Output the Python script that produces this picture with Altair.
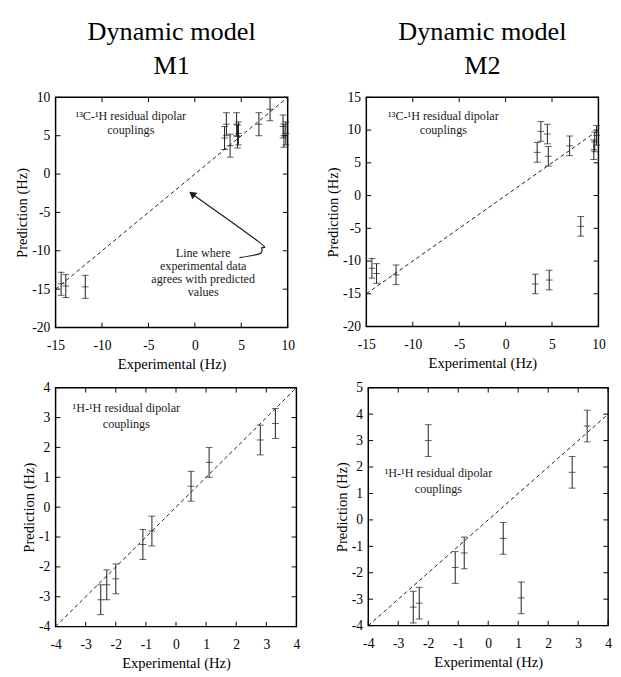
import altair as alt
import pandas as pd

FONT = "Liberation Serif"
INK = "#1a1a1a"

# ---------------- data ----------------
# 13C-1H residual dipolar couplings
ch_experimental = [-14.4, -13.9, -11.8, 3.2, 3.4, 3.8, 4.5, 4.6, 4.7, 6.9, 8.1, 9.5, 9.6, 9.8]
ch_pred_m1 = [-14.3, -14.6, -14.7, 4.7, 6.5, 3.7, 6.5, 4.9, 5.3, 6.5, 8.45, 6.2, 5.0, 5.3]
ch_pred_m2 = [-11.1, -11.9, -12.1, -13.5, 6.6, 9.8, 9.4, 6.0, -12.9, 7.6, -4.7, 7.0, 8.2, 9.2]
ch_err_m1 = 1.5
ch_err_m2 = 1.5

# 1H-1H residual dipolar couplings
hh_experimental = [-2.5, -2.3, -2.0, -1.1, -0.8, 0.5, 1.1, 2.8, 3.3]
hh_pred_m1 = [-3.1, -2.6, -2.4, -1.25, -0.8, 0.7, 1.5, 2.25, 2.8]
hh_pred_m2 = [-3.3, -3.15, 3.0, -1.8, -1.25, -0.7, -2.95, 1.8, 3.55]
hh_err_m1 = 0.5
hh_err_m2 = 0.6

# tick values
ch_x_ticks = [-15, -10, -5, 0, 5, 10]
ch_m1_y_ticks = [-20, -15, -10, -5, 0, 5, 10]
ch_m2_y_ticks = [-20, -15, -10, -5, 0, 5, 10, 15]
hh_x_ticks = [-4, -3, -2, -1, 0, 1, 2, 3, 4]
hh_m1_y_ticks = [-4, -3, -2, -1, 0, 1, 2, 3, 4]
hh_m2_y_ticks = [-4, -3, -2, -1, 0, 1, 2, 3, 4, 5]

ch_label = ["\u00b9\u00b3C-\u00b9H residual dipolar", "couplings"]
hh_label = ["\u00b9H-\u00b9H residual dipolar", "couplings"]
note_lines = ["Line where", "experimental data", "agrees with predicted", "values"]


def panel(exp, pred, err, xt, yt, w, h, label, label_pos, title=None, note=None):
    xs = alt.Scale(domain=[xt[0], xt[-1]], nice=False, zero=False)
    ys = alt.Scale(domain=[yt[0], yt[-1]], nice=False, zero=False)
    df = pd.DataFrame({"exp": exp, "pred": pred})
    df["lo"] = df["pred"] - err
    df["hi"] = df["pred"] + err

    ax = dict(ticks=False, domain=False, grid=False, labelFont=FONT, labelFontSize=14,
              labelColor="black", titleFont=FONT, titleFontSize=15, titleFontWeight="normal",
              titleColor="black", labelFlush=False, labelOverlap=False,
              labelExpr="'' + datum.value")
    xaxis = alt.Axis(values=xt, title="Experimental (Hz)", labelPadding=12, titlePadding=4, **ax)
    yaxis = alt.Axis(values=yt, title="Prediction (Hz)", labelPadding=6, titlePadding=2, **ax)

    def X(f):
        return alt.X(f"{f}:Q", scale=xs, axis=xaxis)

    def Y(f):
        return alt.Y(f"{f}:Q", scale=ys, axis=yaxis)

    base = alt.Chart(df)
    layers = [base.mark_rule(color=INK, strokeWidth=1).encode(x=X("exp"), y=Y("lo"), y2="hi:Q")]
    for f in ("lo", "hi", "pred"):
        layers.append(base.mark_tick(orient="horizontal", size=7, thickness=1, color=INK)
                      .encode(x=X("exp"), y=Y(f)))

    diag = pd.DataFrame({"a": [max(xt[0], yt[0]), min(xt[-1], yt[-1])]})
    layers.append(alt.Chart(diag).mark_line(strokeDash=[4, 3], color=INK, strokeWidth=1)
                  .encode(x=X("a"), y=Y("a")))

    # inward ticks on all four sides
    tx = pd.DataFrame({"t": xt})
    ty = pd.DataFrame({"t": yt})
    L = 5
    tk = dict(color="black", strokeWidth=1)
    layers += [
        alt.Chart(tx).mark_rule(**tk).encode(x=X("t"), y=alt.value(h), y2=alt.value(h - L)),
        alt.Chart(tx).mark_rule(**tk).encode(x=X("t"), y=alt.value(0), y2=alt.value(L)),
        alt.Chart(ty).mark_rule(**tk).encode(y=Y("t"), x=alt.value(0), x2=alt.value(L)),
        alt.Chart(ty).mark_rule(**tk).encode(y=Y("t"), x=alt.value(w), x2=alt.value(w - L)),
    ]

    lab = pd.DataFrame({"x": [label_pos[0]] * 2, "y": [label_pos[1], label_pos[2]], "t": label})
    layers.append(alt.Chart(lab).mark_text(font=FONT, fontSize=12.5, color=INK, align="center", baseline="middle")
                  .encode(x=X("x"), y=Y("y"), text="t:N"))

    if note is not None:
        nx, ny_list, path_x, path_y, tip, ang = note
        nd = pd.DataFrame({"x": [nx] * len(note_lines), "y": ny_list, "t": note_lines})
        layers.append(alt.Chart(nd).mark_text(font=FONT, fontSize=12.5, color=INK, align="center", baseline="middle")
                      .encode(x=X("x"), y=Y("y"), text="t:N"))
        pth = pd.DataFrame({"x": path_x, "y": path_y, "o": list(range(len(path_x)))})
        layers.append(alt.Chart(pth).mark_line(color=INK, strokeWidth=1.2, interpolate="cardinal")
                      .encode(x=X("x"), y=Y("y"), order="o:Q"))
        hd = pd.DataFrame({"x": [tip[0]], "y": [tip[1]]})
        layers.append(alt.Chart(hd).mark_point(shape="triangle-up", filled=True, size=70, angle=ang, color=INK, opacity=1)
                      .encode(x=X("x"), y=Y("y")))

    ch = alt.layer(*layers).properties(width=w, height=h)
    if title is not None:
        ch = ch.properties(title=alt.Title(title, font=FONT, fontSize=27, fontWeight="normal",
                                           color="black", lineHeight=35, offset=11, anchor="middle"))
    return ch


note = (0.9, [-10.3, -12.0, -13.7, -15.4],
        [4.8, 7.0, 7.2, 6.86, -0.3], [-10.9, -10.37, -9.65, -8.81, -2.59],
        (-0.3, -2.59), 306)

tl = panel(ch_experimental, ch_pred_m1, ch_err_m1, ch_x_ticks, ch_m1_y_ticks, 239, 237,
           ch_label, (-6.9, 7.6, 5.7), title=["Dynamic model", "M1"], note=note)
tr = panel(ch_experimental, ch_pred_m2, ch_err_m2, ch_x_ticks, ch_m2_y_ticks, 239, 236,
           ch_label, (-6.7, 12.2, 10.0), title=["Dynamic model", "M2"])
bl = panel(hh_experimental, hh_pred_m1, hh_err_m1, hh_x_ticks, hh_m1_y_ticks, 248, 246,
           hh_label, (-1.65, 3.32, 2.77))
br = panel(hh_experimental, hh_pred_m2, hh_err_m2, hh_x_ticks, hh_m2_y_ticks, 247, 245,
           hh_label, (-1.66, 1.76, 1.17))

row1 = alt.hconcat(tl, tr, spacing=30)
row2 = alt.hconcat(bl, br, spacing=33)
chart = (alt.vconcat(row1, row2, spacing=8)
         .configure_view(stroke="black", strokeWidth=1.5)
         .configure_axis(labelFont=FONT, titleFont=FONT)
         .properties(background="white", padding={"left": 6, "top": 0, "right": 0, "bottom": 0}))

chart.save("out.html", embed_options={"renderer": "svg", "actions": False})
